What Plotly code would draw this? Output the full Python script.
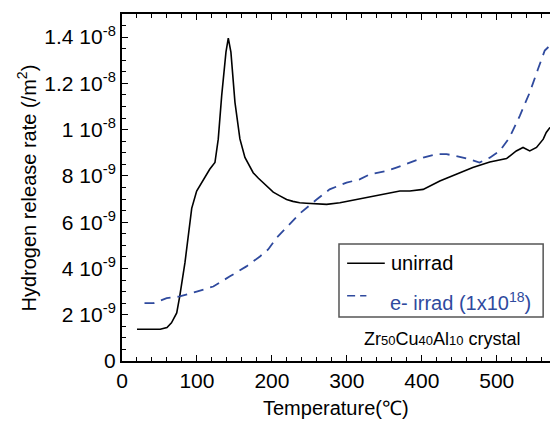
import plotly.graph_objects as go

# unirrad (black solid)
t_un = [20, 35, 51, 60, 66, 73, 77, 84, 88, 93, 99.6, 104, 110, 117, 124, 128.4, 133, 138.7, 141.8,
        145.3, 150.7, 157.3, 164, 170, 175, 182, 188, 195, 201.8, 210, 219.6, 228, 237, 246, 260,
        273, 290.7, 313, 335, 357, 370.7, 384, 401.8, 424, 446, 468, 490.7, 513, 526, 535, 544,
        553, 562, 566, 571]
v_un = [1.375, 1.37, 1.375, 1.45, 1.65, 2.08, 2.79, 4.25, 5.4, 6.6, 7.35, 7.6, 7.95, 8.29, 8.58, 9.59, 11.47, 13.35, 13.96,
        13.35, 11.18, 9.6, 8.8, 8.45, 8.14, 7.9, 7.71, 7.5, 7.3, 7.15, 6.98, 6.9, 6.84, 6.82, 6.78,
        6.77, 6.84, 6.98, 7.13, 7.28, 7.35, 7.35, 7.42, 7.78, 8.07, 8.36, 8.6, 8.75, 9.08, 9.23, 9.08,
        9.23, 9.59, 9.88, 10.1]

# e- irrad (blue dashed)
t_ir = [30, 42, 59.6, 77, 99.6, 121.8, 144, 166, 184, 195, 206, 219.6, 237, 259.6, 277, 299.6,
        317, 330.7, 353, 366, 384, 401.8, 419.6, 433, 446, 464, 477, 490.7, 504, 517, 530.7,
        544, 555, 564, 571]
v_ir = [2.5, 2.5, 2.72, 2.79, 3.0, 3.22, 3.66, 4.09, 4.52, 4.82, 5.32, 5.8, 6.37, 6.98, 7.42, 7.71,
        7.85, 8.07, 8.21, 8.36, 8.58, 8.79, 8.94, 8.94, 8.86, 8.72, 8.58, 8.79, 9.08, 9.66, 10.6,
        11.61, 12.62, 13.42, 13.64]

ytick_vals = [0, 2e-9, 4e-9, 6e-9, 8e-9, 1e-8, 1.2e-8, 1.4e-8]
ytick_text = ["0", "2 10<sup>-9</sup>", "4 10<sup>-9</sup>", "6 10<sup>-9</sup>", "8 10<sup>-9</sup>",
              "1 10<sup>-8</sup>", "1.2 10<sup>-8</sup>", "1.4 10<sup>-8</sup>"]

FONT = "Arial, Liberation Sans, sans-serif"
BLUE = "#2F4A9E"

fig = go.Figure()
fig.add_trace(go.Scatter(x=t_un, y=[v * 1e-9 for v in v_un], mode="lines",
                         line=dict(color="black", width=1.6), name="unirrad", showlegend=False))
fig.add_trace(go.Scatter(x=t_ir, y=[v * 1e-9 for v in v_ir], mode="lines",
                         line=dict(color=BLUE, width=1.8, dash="10px,7px"), name="e- irrad", showlegend=False))

fig.update_layout(
    width=550, height=421,
    margin=dict(l=122, r=0, t=14, b=60),
    paper_bgcolor="white", plot_bgcolor="white",
    font=dict(family=FONT, size=20, color="black"),
    xaxis=dict(range=[0, 571], tickvals=[0, 100, 200, 300, 400, 500], ticks="inside", ticklen=6,
               tickwidth=1, tickcolor="black", showline=True, linecolor="black", linewidth=2,
               mirror="ticks", showgrid=False, zeroline=False, automargin=False,
               tickfont=dict(size=21),
               minor=dict(dtick=20, tick0=0, ticks="inside", ticklen=4, tickcolor="black", showgrid=False)),
    yaxis=dict(range=[0, 1.5e-8], tickvals=ytick_vals, ticktext=ytick_text, ticks="inside", ticklen=6,
               tickwidth=1, tickcolor="black", showline=True, linecolor="black", linewidth=2,
               showgrid=False, zeroline=False, automargin=False,
               tickfont=dict(size=21),
               minor=dict(dtick=5e-10, tick0=0, ticks="inside", ticklen=4, tickcolor="black", showgrid=False)),
)

# axis titles
fig.add_annotation(xref="paper", yref="paper", x=0.5, y=-0.135, text="Temperature(℃)", showarrow=False,
                   xanchor="center", yanchor="middle", font=dict(size=20))
fig.add_annotation(xref="paper", yref="paper", x=-0.222, y=0.5, text="Hydrogen release rate (/m<sup>2</sup>)",
                   showarrow=False, textangle=-90, xanchor="center", yanchor="middle", font=dict(size=20))

# legend box (manual)
fig.add_shape(type="rect", xref="paper", yref="paper", x0=0.507, x1=0.984, y0=0.127, y1=0.337,
              line=dict(color="#555555", width=1.5), fillcolor="white", layer="above")
fig.add_shape(type="line", xref="paper", yref="paper", x0=0.526, x1=0.614, y0=0.282, y1=0.282,
              line=dict(color="black", width=1.5))
fig.add_shape(type="line", xref="paper", yref="paper", x0=0.526, x1=0.571, y0=0.188, y1=0.188,
              line=dict(color=BLUE, width=1.5, dash="8px,5px"))
fig.add_annotation(xref="paper", yref="paper", x=0.624, y=0.282, text="unirrad", showarrow=False,
                   xanchor="left", yanchor="middle", font=dict(size=20, color="black"))
fig.add_annotation(xref="paper", yref="paper", x=0.621, y=0.172, text="e- irrad (1x10<sup>18</sup>)",
                   showarrow=False, xanchor="left", yanchor="middle", font=dict(size=20, color=BLUE))
fig.add_annotation(xref="paper", yref="paper", x=0.748, y=0.062,
                   text="Zr<span style='font-size:13px'>50</span>Cu<span style='font-size:13px'>40</span>Al<span style='font-size:13px'>10</span> crystal",
                   showarrow=False, xanchor="center", yanchor="middle", font=dict(size=18, color="black"))

fig.write_html("out.html", config={"displayModeBar": False},
               post_script="document.body.style.margin='0';document.body.style.overflow='hidden';")
